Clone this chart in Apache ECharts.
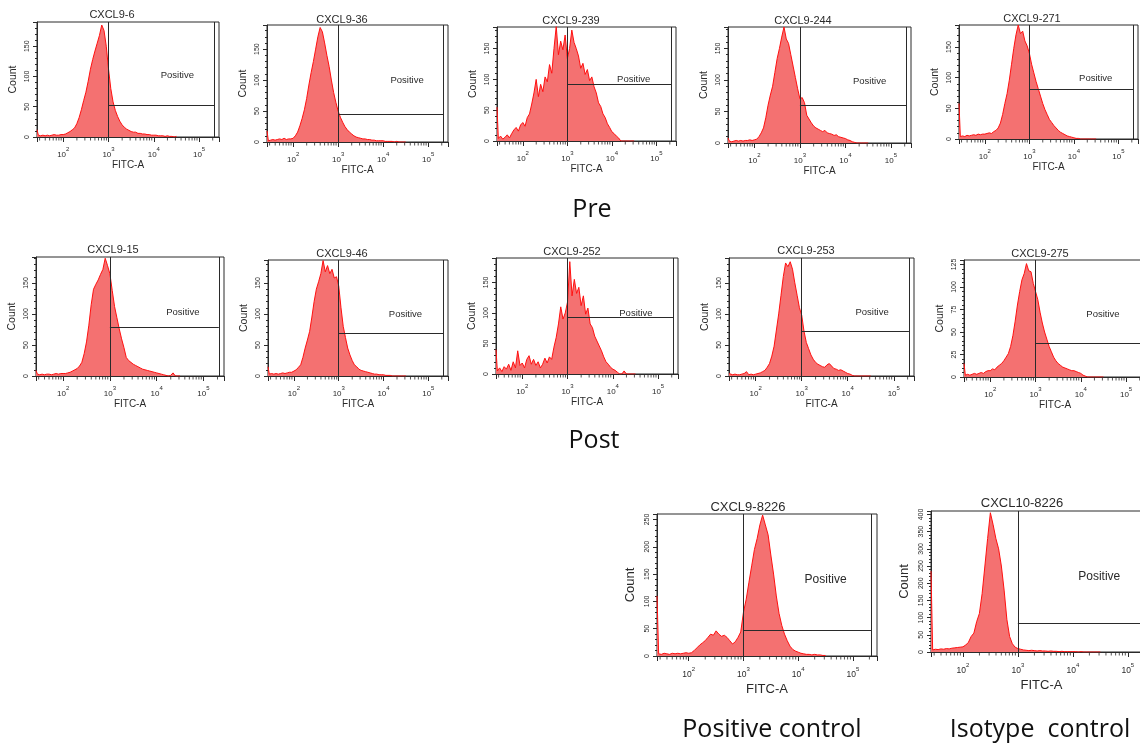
<!DOCTYPE html>
<html lang="en">
<head>
<meta charset="UTF-8">
<title>CXCL9 flow cytometry histograms</title>
<script src="https://cdn.jsdelivr.net/npm/echarts@6/dist/echarts.min.js"></script>
<style>
  html, body { margin: 0; padding: 0; background: #fff; }
  #main { width: 1140px; height: 746px; }
</style>
</head>
<body>
<div id="main"></div>
<script>
// bin centres as log10(FITC-A); the first bin is the pile-up at the left edge
var BIN_EXP = [1.42,
  1.45, 1.50, 1.55, 1.60, 1.65, 1.70, 1.75, 1.80, 1.85, 1.90, 1.95,
  2.00, 2.05, 2.10, 2.15, 2.20, 2.25, 2.30, 2.35, 2.40, 2.45,
  2.50, 2.55, 2.60, 2.65, 2.70, 2.75, 2.80, 2.85, 2.90, 2.95,
  3.00, 3.05, 3.10, 3.15, 3.20, 3.25, 3.30, 3.35, 3.40, 3.45,
  3.50, 3.55, 3.60, 3.65, 3.70, 3.75, 3.80, 3.85, 3.90, 3.95,
  4.00, 4.05, 4.10, 4.15, 4.20, 4.25, 4.30, 4.35, 4.40, 4.45, 4.50];

// counts per bin
var CXCL9_6 = [12,
  3, 2, 3, 2, 3, 2, 3, 4, 3, 3, 4,
  4, 5, 7, 9, 12, 15, 22, 32, 45, 60,
  74, 92, 112, 128, 142, 155, 168, 185, 176, 150,
  112, 80, 58, 44, 34, 26, 20, 16, 13, 11,
  9, 8, 8, 6, 6, 5, 5, 4, 4, 3,
  3, 3, 2, 2, 2, 1, 2, 1, 1, 0, 1];
var CXCL9_36 = [18,
  2, 3, 4, 3, 4, 5, 4, 6, 4, 5, 5,
  6, 10, 16, 26, 38, 52, 70, 92, 112, 130,
  150, 170, 185, 178, 160, 140, 122, 100, 80, 64,
  50, 40, 32, 25, 20, 16, 13, 10, 8, 7,
  6, 5, 5, 4, 4, 3, 3, 2, 2, 2,
  2, 1, 1, 1, 1, 0, 1, 0, 0, 0, 0];
var CXCL9_239 = [55,
  4, 8, 3, 6, 10, 5, 12, 18, 22, 16, 26,
  30, 24, 38, 44, 60, 78, 100, 72, 92, 80,
  104, 96, 124, 110, 150, 186, 140, 162, 148, 172,
  134, 150, 180, 160, 150, 138, 118, 126, 108, 116,
  98, 104, 88, 78, 62, 56, 44, 38, 28, 22,
  15, 12, 8, 5, 0, 0, 0, 0, 0, 0, 0];
var CXCL9_244 = [8,
  3, 2, 3, 4, 3, 4, 3, 4, 4, 5, 4,
  5, 6, 10, 16, 24, 40, 60, 76, 90, 112,
  134, 150, 168, 184, 165, 158, 140, 122, 104, 86,
  70, 72, 64, 44, 38, 32, 27, 24, 22, 20,
  18, 20, 16, 15, 14, 12, 13, 10, 9, 8,
  7, 5, 4, 2, 1, 0, 0, 0, 0, 0, 0];
var CXCL9_271 = [58,
  4, 5, 4, 6, 5, 6, 7, 6, 8, 7, 8,
  8, 9, 10, 9, 12, 14, 18, 26, 40, 58,
  74, 96, 122, 148, 170, 186, 172, 176, 160, 152,
  140, 122, 108, 94, 82, 70, 58, 48, 40, 32,
  27, 22, 18, 14, 11, 9, 7, 5, 4, 3,
  2, 1, 1, 0, 0, 0, 0, 0, 0, 0, 0];
var CXCL9_15 = [9,
  3, 2, 3, 2, 3, 3, 2, 3, 4, 3, 4,
  4, 4, 5, 6, 8, 10, 12, 16, 22, 36,
  55, 82, 115, 140, 148, 155, 164, 172, 190, 178,
  165, 138, 112, 94, 76, 60, 46, 30, 25, 22,
  19, 17, 15, 13, 11, 10, 9, 8, 7, 6,
  5, 4, 3, 2, 1, 0, 1, 5, 0, 0, 0];
var CXCL9_46 = [15,
  3, 4, 3, 4, 3, 4, 5, 4, 5, 6, 6,
  8, 10, 14, 18, 30, 45, 58, 72, 95, 120,
  140, 152, 165, 186, 168, 178, 165, 172, 158, 160,
  145, 110, 80, 62, 45, 34, 25, 18, 15, 11,
  9, 8, 7, 6, 5, 4, 3, 3, 2, 2,
  2, 1, 1, 1, 0, 0, 0, 0, 0, 0, 0];
var CXCL9_252 = [40,
  5, 10, 4, 12, 8, 16, 6, 20, 10, 38, 14,
  18, 10, 24, 30, 16, 24, 14, 20, 10, 16,
  26, 18, 28, 24, 44, 60, 82, 110, 90, 100,
  118, 184, 128, 155, 132, 142, 112, 128, 98, 108,
  82, 76, 62, 54, 46, 38, 28, 20, 16, 11,
  8, 6, 3, 0, 0, 5, 0, 0, 0, 0, 0];
var CXCL9_253 = [4,
  2, 2, 3, 2, 2, 3, 4, 7, 2, 3, 2,
  3, 4, 5, 7, 9, 14, 20, 32, 48, 74,
  100, 130, 160, 182, 176, 184, 172, 150, 130, 110,
  98, 72, 54, 44, 34, 27, 22, 19, 17, 15,
  14, 18, 20, 16, 12, 11, 9, 10, 8, 6,
  4, 3, 1, 0, 0, 0, 0, 0, 0, 0, 0];
var CXCL9_275 = [15,
  2, 3, 2, 3, 4, 3, 4, 5, 4, 6, 7,
  7, 9, 8, 11, 13, 15, 18, 22, 26, 34,
  46, 62, 80, 95, 108, 115, 126, 118, 117, 104,
  95, 86, 72, 60, 50, 42, 34, 28, 22, 18,
  15, 13, 11, 10, 9, 8, 7, 7, 6, 5,
  4, 2, 1, 0, 0, 0, 0, 0, 0, 0, 0];
var CXCL9_8226 = [110,
  4, 3, 5, 4, 3, 5, 4, 5, 4, 5, 6,
  5, 6, 10, 15, 20, 24, 28, 34, 40, 38,
  46, 40, 36, 38, 34, 28, 22, 26, 34, 44,
  80, 104, 135, 165, 195, 215, 240, 258, 240, 222,
  185, 150, 110, 78, 56, 40, 28, 18, 12, 9,
  7, 5, 4, 3, 3, 2, 3, 2, 2, 1, 1];
var CXCL10_8226 = [235,
  6, 8, 7, 9, 8, 10, 9, 11, 12, 13, 14,
  15, 20, 28, 45, 55, 88, 112, 170, 250, 330,
  405, 370, 330, 300, 250, 180, 95, 45, 24, 14,
  10, 8, 6, 5, 4, 5, 4, 3, 4, 3,
  3, 2, 3, 2, 2, 1, 2, 1, 1, 1,
  1, 1, 0, 1, 0, 0, 0, 0, 0, 0, 0];

var NAMES = ['CXCL9-6', 'CXCL9-36', 'CXCL9-239', 'CXCL9-244', 'CXCL9-271',
  'CXCL9-15', 'CXCL9-46', 'CXCL9-252', 'CXCL9-253', 'CXCL9-275',
  'CXCL9-8226', 'CXCL10-8226'];
var COUNTS = [CXCL9_6, CXCL9_36, CXCL9_239, CXCL9_244, CXCL9_271,
  CXCL9_15, CXCL9_46, CXCL9_252, CXCL9_253, CXCL9_275,
  CXCL9_8226, CXCL10_8226];
var Y_MAX = [190, 189, 185, 184, 186, 192, 187, 190, 190, 130, 260, 410];
var Y_STEP = [50, 50, 50, 50, 50, 50, 50, 50, 50, 25, 50, 50];
var GATE_Y = [53, 45, 92, 60, 81, 79, 69, 93, 72, 37, 48, 85];

var X_MIN = Math.pow(10, 1.42);
var X_MAX = Math.pow(10, 5.44);
var GATE_LEFT = 1000;
var GATE_RIGHT = Math.pow(10, 5.33);
var MINOR_X = [30, 40, 50, 60, 70, 80, 90,
  200, 300, 400, 500, 600, 700, 800, 900,
  2000, 3000, 4000, 5000, 6000, 7000, 8000, 9000,
  20000, 30000, 40000, 50000, 60000, 70000, 80000, 90000,
  200000];

// plot box [left, top, width, height], title centre, "Positive" tag [log10 x, count]
var LAYOUT = [
  {box: [37, 22, 182, 115], head: [112, 15], tag: [4.52, 102]},
  {box: [267, 25, 181, 117], head: [342, 20], tag: [4.53, 100]},
  {box: [497, 27, 179, 114], head: [571, 21], tag: [4.49, 100]},
  {box: [728, 27, 183, 116], head: [803, 21], tag: [4.53, 98]},
  {box: [959, 25, 179, 114], head: [1032, 19], tag: [4.49, 99]},
  {box: [36, 257, 188, 119], head: [113, 250], tag: [4.56, 103]},
  {box: [268, 260, 180, 116], head: [342, 254], tag: [4.49, 100]},
  {box: [496, 258, 182, 116], head: [572, 252], tag: [4.51, 100]},
  {box: [729, 258, 185, 118], head: [806, 251], tag: [4.53, 102]},
  {box: [964, 260, 182, 117], head: [1040, 254], tag: [4.49, 70]},
  {box: [657, 514, 220, 142], head: [748, 507], tag: [4.50, 139], big: true},
  {box: [931, 511, 221, 141], head: [1022, 503], tag: [4.48, 219], big: true}
];

var FONT = '"Liberation Sans", Arial, sans-serif';
var INK = '#2a2a2a';

var chart = echarts.init(document.getElementById('main'));

var grids = [], xAxes = [], yAxes = [], series = [], graphics = [];

LAYOUT.forEach(function (lay, i) {
    var big = !!lay.big;
    var step = Y_STEP[i];
    grids.push({
        left: lay.box[0], top: lay.box[1], width: lay.box[2], height: lay.box[3],
        show: true, borderColor: INK, borderWidth: 1,
        containLabel: false, outerBoundsMode: 'none'
    });
    xAxes.push({
        type: 'log', logBase: 10, gridIndex: i, min: X_MIN, max: X_MAX,
        name: 'FITC-A', nameLocation: 'middle', nameGap: big ? 27 : 22,
        nameTextStyle: {fontSize: big ? 13 : 10, color: INK, fontFamily: FONT},
        axisLine: {show: true, lineStyle: {color: INK, width: 1}},
        axisTick: {show: true, length: 5, lineStyle: {color: INK}},
        splitLine: {show: false},
        axisLabel: {
            margin: big ? 10 : 9,
            formatter: function (v) {
                var e = Math.log(v) / Math.LN10;
                var r = Math.round(e);
                return Math.abs(e - r) < 1e-6 ? '{b|10}{s|' + r + '}' : '';
            },
            rich: {
                b: {fontSize: big ? 8.5 : 8, lineHeight: 13, verticalAlign: 'bottom', color: INK, fontFamily: FONT},
                s: {fontSize: 6, lineHeight: 7, verticalAlign: 'top', color: INK, fontFamily: FONT}
            }
        }
    });
    yAxes.push({
        type: 'value', gridIndex: i, min: 0, max: Y_MAX[i], interval: step,
        name: 'Count', nameLocation: 'middle', nameRotate: 90, nameGap: big ? 20 : 18,
        nameTextStyle: {fontSize: big ? 13 : 10.5, color: INK, fontFamily: FONT},
        axisLine: {show: true, lineStyle: {color: INK, width: 1}},
        axisTick: {show: true, length: 4, lineStyle: {color: INK}},
        minorTick: {show: true, splitNumber: 5, length: 2, lineStyle: {color: INK}},
        splitLine: {show: false},
        axisLabel: {
            rotate: 90, margin: 6, fontSize: 7, color: INK, fontFamily: FONT,
            formatter: function (v) { return v % step === 0 ? String(v) : ''; }
        }
    });

    var counts = COUNTS[i];
    series.push({
        type: 'line', xAxisIndex: i, yAxisIndex: i,
        data: BIN_EXP.map(function (e, k) { return [Math.pow(10, e), counts[k]]; }),
        symbol: 'none', silent: true, animation: false,
        lineStyle: {color: '#ff1010', width: 1},
        areaStyle: {color: '#f47171', opacity: 1},
        markLine: {
            silent: true, symbol: ['none', 'none'], animation: false,
            label: {show: false},
            lineStyle: {color: INK, width: 1, type: 'solid'},
            data: [
                {xAxis: GATE_LEFT},
                {xAxis: GATE_RIGHT},
                [{coord: [GATE_LEFT, GATE_Y[i]]}, {coord: [GATE_RIGHT, GATE_Y[i]]}]
            ]
        },
        markPoint: {
            silent: true, symbol: 'rect', symbolSize: 1, animation: false,
            itemStyle: {color: 'rgba(0,0,0,0)'},
            label: {
                show: true, position: 'inside', formatter: 'Positive',
                fontSize: big ? 12 : 9.5, color: INK, fontFamily: FONT
            },
            data: [{coord: [Math.pow(10, lay.tag[0]), lay.tag[1]]}]
        }
    });
    series.push({
        type: 'scatter', xAxisIndex: i, yAxisIndex: i,
        data: MINOR_X.map(function (v) { return [v, 0]; }),
        symbol: 'rect', symbolSize: [1, 3], symbolOffset: [0, 2],
        itemStyle: {color: INK}, silent: true, clip: false, animation: false, z: 4
    });

    graphics.push({
        type: 'text', x: lay.head[0], y: lay.head[1], silent: true,
        style: {
            text: NAMES[i], fontSize: big ? 13 : 11, fontFamily: FONT, fill: INK,
            align: 'center', verticalAlign: 'middle',
            textAlign: 'center', textVerticalAlign: 'middle'
        }
    });
});

var GROUPS = [
    {text: 'Pre', x: 592, y: 210},
    {text: 'Post', x: 594, y: 441},
    {text: 'Positive control', x: 772, y: 730},
    {text: 'Isotype  control', x: 1040, y: 730}
];
GROUPS.forEach(function (g) {
    graphics.push({
        type: 'text', x: g.x, y: g.y, silent: true,
        style: {
            text: g.text, fontSize: 25, fontFamily: '"Open Sans", "Noto Sans", sans-serif', fill: '#111',
            align: 'center', verticalAlign: 'middle',
            textAlign: 'center', textVerticalAlign: 'middle'
        }
    });
});

chart.setOption({
    animation: false,
    backgroundColor: '#ffffff',
    textStyle: {fontFamily: FONT},
    grid: grids,
    xAxis: xAxes,
    yAxis: yAxes,
    series: series,
    graphic: graphics
});
</script>
</body>
</html>
